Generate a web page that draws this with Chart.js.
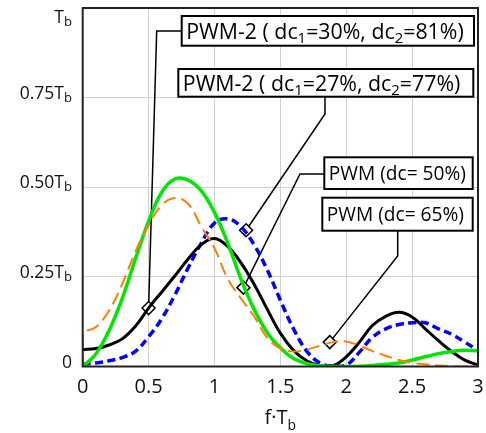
<!DOCTYPE html>
<html><head><meta charset="utf-8">
<script src="https://cdn.jsdelivr.net/npm/chart.js@4/dist/chart.umd.min.js"></script>
<style>html,body{margin:0;padding:0;background:#fff}canvas{display:block}</style>
</head><body>
<canvas id="c" width="486" height="433"></canvas>
<script>
// ---- data ----
const xs = [0,0.1,0.2,0.3,0.4,0.5,0.6,0.7,0.8,0.9,1.0,1.1,1.2,1.3,1.4,1.5,1.6,1.7,1.8,1.9,2.0,2.1,2.2,2.3,2.4,2.5,2.6,2.7,2.8,2.9,3.0];
const pwm2_30_81 = [0.047,0.05,0.06,0.077,0.112,0.163,0.208,0.253,0.3,0.34,0.357,0.335,0.29,0.23,0.16,0.093,0.045,0.016,0.003,0.002,0.027,0.068,0.115,0.14,0.151,0.138,0.105,0.072,0.042,0.018,0.004];
const pwm2_27_77 = [0.007,0.01,0.016,0.025,0.042,0.083,0.133,0.2,0.275,0.344,0.4,0.412,0.39,0.34,0.27,0.185,0.105,0.043,0.01,0.001,0.004,0.04,0.082,0.105,0.117,0.122,0.122,0.105,0.09,0.068,0.045];
const pwm_50 = [0,0.035,0.1,0.19,0.3,0.405,0.486,0.523,0.52,0.49,0.43,0.345,0.245,0.16,0.095,0.052,0.022,0.008,0.002,0,0,0.001,0.003,0.006,0.01,0.018,0.027,0.036,0.042,0.045,0.044];
const pwm_65_x = [0].concat(xs);
const pwm_65 = [0,0.09,0.11,0.156,0.23,0.32,0.394,0.45,0.47,0.454,0.39,0.33,0.245,0.19,0.14,0.08,0.05,0.042,0.047,0.058,0.068,0.07,0.058,0.043,0.03,0.018,0.01,0.006,0.003,0.001,0,0];
const markerX = [0.5, 1.24, 1.22, 1.875];
const markerY = [0.163, 0.38, 0.22, 0.068];
const xTicks = [0,0.5,1,1.5,2,2.5,3];
const xTickLabels = ['0','0.5','1','1.5','2','2.5','3'];
const yTicks = [0,0.25,0.5,0.75,1];
const yTickLabels = ['0','0.25','0.50','0.75',''];
const labels = [
  [['PWM-2 ( dc',0],['1',1],['=30%, dc',0],['2',1],['=81%)',0]],
  [['PWM-2 ( dc',0],['1',1],['=27%, dc',0],['2',1],['=77%)',0]],
  [['PWM (dc= 50%)',0]],
  [['PWM (dc= 65%)',0]]
];

// ---- layout / styles ----
const boxes = [
  {x0:181.7,y0:16,x1:474,y1:45.7, textW:279, group:0, path:[[181.7,31],[156.7,31]]},
  {x0:178.3,y0:69,x1:473.3,y1:96.7, textW:276.5, group:0, path:[[325,96.7],[325,114]]},
  {x0:324.3,y0:157.3,x1:472.7,y1:189, textW:135.5, group:1, path:[[324.3,174],[300,174]]},
  {x0:322.3,y0:197.7,x1:472.7,y1:230.7, textW:139, group:1, path:[[397.7,230.7],[397.7,256]]}
];
const FAM = '"Open Sans", sans-serif';

function pts(x,y){ return x.map((v,i)=>({x:v,y:y[i]})); }

function richW(ctx, parts, size, fam, subR){
  let w=0; for(const [t,s] of parts){ ctx.font=(s?size*subR:size)+'px '+fam; w+=ctx.measureText(t).width; } return w;
}
function drawRich(ctx, parts, x, y, size, fam, align, subR, subOff){
  const w = richW(ctx, parts, size, fam, subR);
  let cx = align==='right'? x-w : align==='center'? x-w/2 : x;
  ctx.textAlign='left'; ctx.textBaseline='alphabetic';
  for(const [t,s] of parts){
    ctx.font=(s?size*subR:size)+'px '+fam;
    ctx.fillText(t, cx, s? y+subOff : y);
    cx += ctx.measureText(t).width;
  }
}

const deco = {
  id:'deco',
  beforeDatasetsDraw(chart){
    const ctx=chart.ctx, xs_=chart.scales.x, ys_=chart.scales.y;
    ctx.save(); ctx.strokeStyle='#000'; ctx.lineWidth=1.5;
    boxes.forEach((b,i)=>{
      ctx.beginPath();
      ctx.moveTo(b.path[0][0], b.path[0][1]);
      for(let k=1;k<b.path.length;k++) ctx.lineTo(b.path[k][0], b.path[k][1]);
      ctx.lineTo(xs_.getPixelForValue(markerX[i]), ys_.getPixelForValue(markerY[i]));
      ctx.stroke();
    });
    ctx.restore();
  },
  afterDatasetsDraw(chart){
    const ctx=chart.ctx, a=chart.chartArea;
    ctx.save();
    ctx.strokeStyle='#222'; ctx.lineWidth=2;
    ctx.strokeRect(a.left, a.top, a.right-a.left, a.bottom-a.top);
    const sums=[0,0], cnt=[0,0];
    boxes.forEach((b,i)=>{ sums[b.group] += 20*b.textW/richW(ctx, labels[i], 20, FAM, 0.7); cnt[b.group]++; });
    boxes.forEach((b,i)=>{
      const size = sums[b.group]/cnt[b.group];
      ctx.fillStyle='#fff'; ctx.fillRect(b.x0,b.y0,b.x1-b.x0,b.y1-b.y0);
      ctx.strokeStyle='#000'; ctx.lineWidth=2; ctx.strokeRect(b.x0,b.y0,b.x1-b.x0,b.y1-b.y0);
      ctx.fillStyle='#000';
      drawRich(ctx, labels[i], b.x0+4.5, (b.y0+b.y1)/2+size*0.36, size, FAM, 'left', 0.7, size*0.2);
    });
    ctx.restore();
  },
  afterDraw(chart){
    const ctx=chart.ctx, sx=chart.scales.x, sy=chart.scales.y;
    ctx.save(); ctx.fillStyle='#111';
    xTicks.forEach((v,i)=>{
      ctx.font='20px '+FAM; ctx.textAlign='center'; ctx.textBaseline='alphabetic';
      ctx.fillText(xTickLabels[i], sx.getPixelForValue(v), 393);
    });
    yTicks.forEach((v,i)=>{
      const parts = v===0 ? [[yTickLabels[i],0]] : [[yTickLabels[i]+'T',0],['b',1]];
      const y = Math.max(sy.getPixelForValue(v)+1, 23);
      drawRich(ctx, parts, 72, y, 17.5, FAM, 'right', 0.75, 3);
    });
    drawRich(ctx, [['f·T',0],['b',1]], (chart.chartArea.left+chart.chartArea.right)/2, 424, 20, FAM, 'center', 0.7, 5.5);
    ctx.restore();
  }
};

new Chart(document.getElementById('c'), {
  type:'line',
  data:{ datasets:[
    {data:pts(pwm_65_x,pwm_65), borderColor:'#ff8000', borderWidth:2, borderDash:[13,6], pointRadius:0, tension:0.4, fill:false},
    {data:pts(xs,pwm_50), borderColor:'#00e600', borderWidth:3.5, pointRadius:0, tension:0.4, fill:false},
    {data:pts(xs,pwm2_30_81), borderColor:'#000', borderWidth:3, pointRadius:0, tension:0.4, fill:false},
    {data:pts(xs,pwm2_27_77), borderColor:'#0000ff', borderWidth:3.5, borderDash:[8,4.5], pointRadius:0, tension:0.4, fill:false},
    {data:pts(markerX,markerY), showLine:false, pointStyle:'rectRot', pointRadius:6.5, pointBackgroundColor:'#fff', pointBorderColor:'#000', pointBorderWidth:1.5, clip:false}
  ]},
  options:{
    responsive:false, animation:false, devicePixelRatio:1,
    layout:{padding:{left:82.7, top:5, right:3, bottom:66.5}},
    plugins:{legend:{display:false}, tooltip:{enabled:false}},
    scales:{
      x:{type:'linear', min:0, max:3, ticks:{display:false, stepSize:0.5}, grid:{color:'#d0d0d0', lineWidth:1, drawTicks:false}, border:{display:false}},
      y:{type:'linear', min:0, max:1, ticks:{display:false, stepSize:0.25}, grid:{color:'#d0d0d0', lineWidth:1, drawTicks:false}, border:{display:false}}
    }
  },
  plugins:[deco]
});
</script>
</body></html>
